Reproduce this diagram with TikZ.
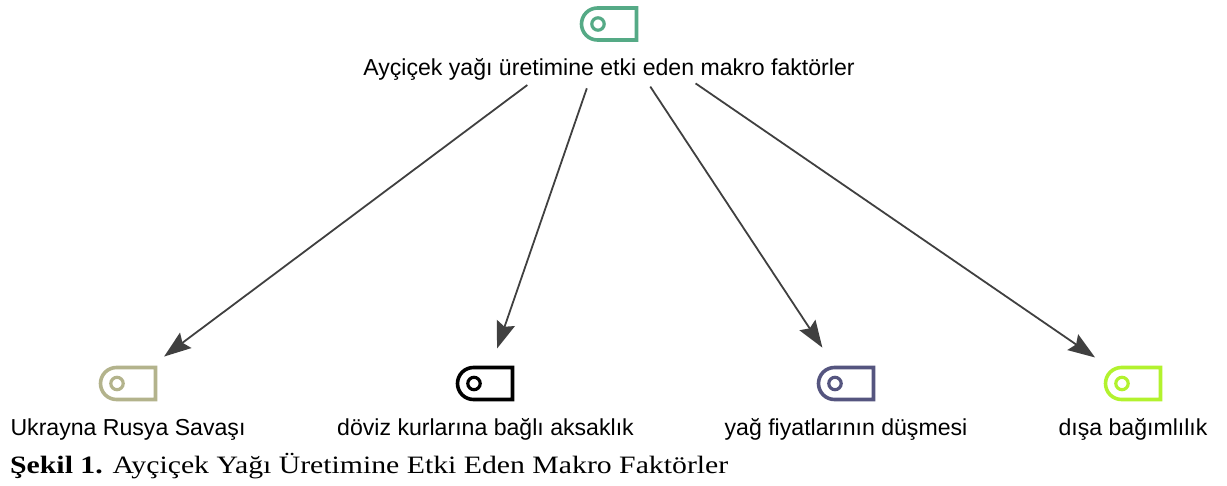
\documentclass[tikz,border=0pt]{standalone}
\usepackage{fontspec}
\setmainfont{Liberation Serif}[FakeStretch=1.19]
\newfontfamily\labelfont{Liberation Sans}
\usetikzlibrary{arrows.meta}
\definecolor{cTop}{HTML}{55AA86}
\definecolor{cA}{HTML}{B3B38C}
\definecolor{cB}{HTML}{000000}
\definecolor{cC}{HTML}{55557F}
\definecolor{cD}{HTML}{B2F22E}
\definecolor{cArrow}{HTML}{404040}
\tikzset{
  x=1pt,y=-1pt,
  iconbox/.style={minimum width=56pt,minimum height=35pt,inner sep=0pt,outer sep=0pt},
  lab/.style={font=\labelfont\fontsize{23.1}{26}\selectfont,text=black,inner sep=0pt,anchor=base},
  conn/.style={draw=cArrow,line width=1.8pt,-{Stealth[length=27pt,width=19pt,inset=4pt]}},
}
\newcommand{\tagicon}[4]{%
  \node[iconbox] (#1) at (#3,#4) {};
  \draw[#2,line width=3.6pt,line join=miter,x=1pt,y=1pt]
    ([xshift=27.5pt,yshift=16pt]#1.center) -- ([xshift=-11.5pt,yshift=16pt]#1.center)
    arc[start angle=90,end angle=270,radius=16pt]
    -- ([xshift=27.5pt,yshift=-16pt]#1.center) -- cycle;
  \draw[#2,line width=3.2pt,x=1pt,y=1pt] ([xshift=-11pt]#1.center) circle[radius=6.2pt];
}
\begin{document}
\begin{tikzpicture}
\useasboundingbox (0,0) rectangle (1227,486);
\tagicon{top}{cTop}{609}{24}
\tagicon{a}{cA}{128}{383.5}
\tagicon{b}{cB}{485}{383.5}
\tagicon{c}{cC}{846}{383.5}
\tagicon{d}{cD}{1133}{383.5}
\node[lab] (toplab) at (609,75.5) {Ayçiçek yağı üretimine etki eden makro faktörler};
\node[lab] (alab) at (128,435.5) {Ukrayna Rusya Savaşı};
\node[lab] (blab) at (485.5,435.5) {döviz kurlarına bağlı aksaklık};
\node[lab] (clab) at (846,435.5) {yağ fiyatlarının düşmesi};
\node[lab] (dlab) at (1133,435.5) {dışa bağımlılık};
\draw[conn,shorten <=102pt,shorten >=45pt] (top.center) -- (a.center);
\draw[conn,shorten <=68pt,shorten >=37pt] (top.center) -- (b.center);
\draw[conn,shorten <=75pt,shorten >=43pt] (top.center) -- (c.center);
\draw[conn,shorten <=105pt,shorten >=46pt] (top.center) -- (d.center);
\node[inner sep=0pt,anchor=base west,font=\fontsize{25}{28}\selectfont] (cap) at (10,473) {\textbf{Şekil 1.} Ayçiçek Yağı Üretimine Etki Eden Makro Faktörler};
\end{tikzpicture}
\end{document}
